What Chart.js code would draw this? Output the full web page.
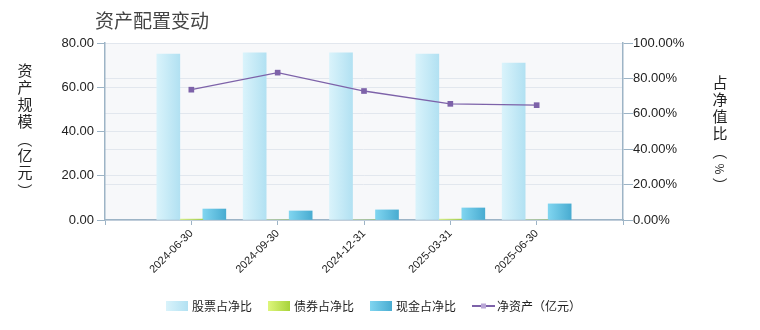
<!DOCTYPE html>
<html>
<head>
<meta charset="utf-8">
<script src="https://cdn.jsdelivr.net/npm/chart.js@4"></script>
<style>
  html, body { margin: 0; padding: 0; background: #fff; }
  #wrap { width: 760px; height: 330px; position: relative; }
</style>
</head>
<body>
<div id="wrap"><canvas id="assetChart" width="760" height="330"></canvas></div>
<script>
// categories (first and last slots are empty padding slots, like the original)
const dates = ['', '2024-06-30', '2024-09-30', '2024-12-31', '2025-03-31', '2025-06-30', ''];
const stockPct = [null, 93.8, 94.4, 94.4, 93.8, 88.7, null];
const bondPct = [null, 0.5, 0, 0, 0.5, 0, null];
const cashPct = [null, 6.2, 5.1, 5.7, 6.8, 9.1, null];
const netAssets = [null, 58.9, 66.6, 58.3, 52.5, 51.9, null];

const leftTicks = [0, 20, 40, 60, 80];
const rightTicks = [0, 20, 40, 60, 80, 100];

const chartTitle = '资产配置变动';
const leftTitle = '资产规模（亿元）';
const rightTitle = '占净值比（%）';
const legendNames = ['股票占净比', '债券占净比', '现金占净比', '净资产（亿元）'];

const AXIS = '#9db4c6';
const GRID = '#e2e7ee';
const LINE = '#7d62a9';
const cjkFont = '"Noto Sans CJK SC", "Noto Sans", sans-serif';
const numFont = '"Liberation Sans", Arial, sans-serif';

const gradStops = [
    ['#d9f3fb', '#b2e1f2'],   // 股票
    ['#def67c', '#a7d33a'],   // 债券
    ['#80d5f0', '#49acd1']    // 现金
];
const BAR_W = 23;

function barGradient(k) {
    return function (context) {
        const chart = context.chart;
        if (!chart.chartArea || context.dataIndex === undefined) return gradStops[k][1];
        const cx = chart.scales.x.getPixelForValue(context.dataIndex);
        const left = cx + (k - 1.5) * BAR_W;
        const g = chart.ctx.createLinearGradient(left, 0, left + BAR_W, 0);
        g.addColorStop(0, gradStops[k][0]);
        g.addColorStop(1, gradStops[k][1]);
        return g;
    };
}

// draws plot background, title, vertical axis titles and legend
const decor = {
    id: 'decor',
    beforeDraw(chart) {
        const { ctx, chartArea: a } = chart;
        ctx.save();
        ctx.fillStyle = '#f7f8fa';
        ctx.fillRect(a.left, a.top, a.right - a.left, a.bottom - a.top);
        ctx.restore();
    },
    afterDraw(chart) {
        const ctx = chart.ctx;
        ctx.save();
        ctx.textBaseline = 'middle';

        // title
        ctx.fillStyle = '#444';
        ctx.font = '19px ' + cjkFont;
        ctx.textAlign = 'left';
        ctx.fillText(chartTitle, 95, 21);

        // vertical axis titles
        drawVertical(ctx, leftTitle, 25, 70);
        drawVertical(ctx, rightTitle, 720, 82);

        // legend
        ctx.font = '12px ' + cjkFont;
        const widths = legendNames.map(n => ctx.measureText(n).width);
        const items = widths.map((w, i) => (i < 3 ? 26 : 25) + w);
        const total = items.reduce((s, w) => s + w, 0) + 16 * (items.length - 1);
        let x = Math.round(374 - total / 2);
        const y = 306;
        legendNames.forEach((name, i) => {
            if (i < 3) {
                const g = ctx.createLinearGradient(x, 0, x + 22, 0);
                g.addColorStop(0, gradStops[i][0]);
                g.addColorStop(1, gradStops[i][1]);
                ctx.fillStyle = g;
                ctx.fillRect(x, y - 5, 22, 10);
                ctx.fillStyle = '#222';
                ctx.textAlign = 'left';
                ctx.fillText(name, x + 26, y);
            } else {
                ctx.strokeStyle = LINE;
                ctx.lineWidth = 2;
                ctx.beginPath();
                ctx.moveTo(x, y);
                ctx.lineTo(x + 23, y);
                ctx.stroke();
                ctx.fillStyle = '#b9a6d6';
                ctx.fillRect(x + 9, y - 2.5, 5, 5);
                ctx.fillStyle = '#222';
                ctx.fillText(name, x + 25, y);
            }
            x += items[i] + 16;
        });
        ctx.restore();
    }
};

function drawVertical(ctx, text, cx, startY) {
    ctx.font = '15px ' + cjkFont;
    ctx.fillStyle = '#222';
    ctx.textAlign = 'center';
    let y = startY;
    for (const ch of text) {
        const rotate = /[（）%]/.test(ch);
        if (rotate) {
            y += 2;
            ctx.save();
            ctx.translate(cx, y);
            ctx.rotate(Math.PI / 2);
            ctx.font = (ch === '%' ? '12px ' : '15px ') + cjkFont;
            ctx.fillText(ch, 0, 0);
            ctx.restore();
            y += ch === '%' ? 14 : 15;
        } else {
            ctx.fillText(ch, cx, y);
            y += 17;
        }
    }
}

new Chart(document.getElementById('assetChart'), {
    type: 'bar',
    data: {
        labels: dates,
        datasets: [
            { label: legendNames[0], data: stockPct, yAxisID: 'y1', backgroundColor: barGradient(0), barThickness: BAR_W, order: 2 },
            { label: legendNames[1], data: bondPct, yAxisID: 'y1', backgroundColor: barGradient(1), barThickness: BAR_W, order: 2 },
            { label: legendNames[2], data: cashPct, yAxisID: 'y1', backgroundColor: barGradient(2), barThickness: BAR_W, order: 2 },
            {
                type: 'line', label: legendNames[3], data: netAssets, yAxisID: 'y',
                borderColor: LINE, borderWidth: 1.3, backgroundColor: LINE,
                pointStyle: 'rect', pointRadius: 4, pointBackgroundColor: LINE, pointBorderWidth: 0,
                tension: 0, spanGaps: false, order: 1
            }
        ]
    },
    options: {
        responsive: false,
        animation: false,
        layout: { padding: { top: 43, bottom: 50, left: 0, right: 0 } },
        plugins: {
            legend: { display: false },
            tooltip: { enabled: false }
        },
        scales: {
            x: {
                offset: false,
                grid: { offset: false, drawOnChartArea: false, drawTicks: true, tickLength: 5, tickColor: AXIS },
                border: { color: AXIS, width: 1.5 },
                ticks: {
                    autoSkip: false, maxRotation: 45, minRotation: 45,
                    color: '#222', font: { family: numFont, size: 11 }, padding: 2
                },
                afterFit(scale) { scale.height = 60; }
            },
            y: {
                position: 'left', min: 0, max: 80,
                afterBuildTicks(scale) { scale.ticks = leftTicks.map(v => ({ value: v })); },
                grid: { color: GRID, tickColor: AXIS, tickLength: 8 },
                border: { color: AXIS, width: 1.5 },
                ticks: {
                    color: '#222', font: { family: numFont, size: 13 }, padding: 3,
                    callback: v => v.toFixed(2)
                },
                afterFit(scale) { scale.width = 105; }
            },
            y1: {
                position: 'right', min: 0, max: 100,
                afterBuildTicks(scale) { scale.ticks = rightTicks.map(v => ({ value: v })); },
                grid: { color: GRID, tickColor: AXIS, tickLength: 10 },
                border: { color: AXIS, width: 1.5 },
                ticks: {
                    color: '#222', font: { family: numFont, size: 13 }, padding: 0,
                    callback: v => v.toFixed(2) + '%'
                },
                afterFit(scale) { scale.width = 137; }
            }
        }
    },
    plugins: [decor]
});
</script>
</body>
</html>
